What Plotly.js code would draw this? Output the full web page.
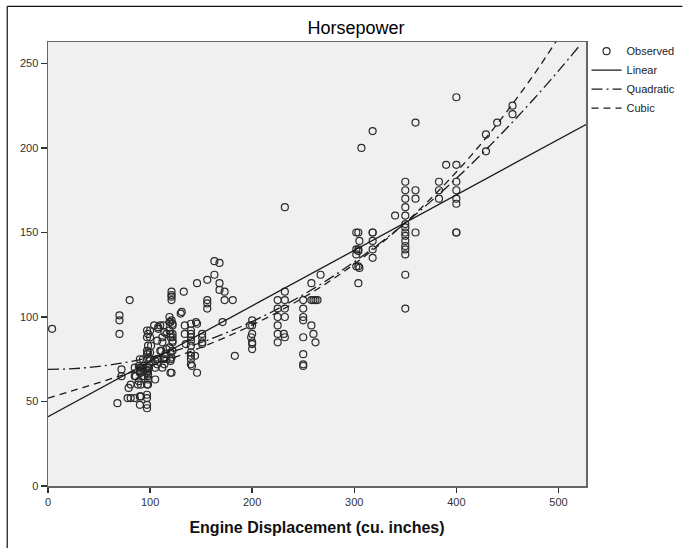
<!DOCTYPE html>
<html>
<head>
<meta charset="utf-8">
<script src="https://cdn.plot.ly/plotly-3.0.1.min.js"></script>
<style>
  html, body { margin: 0; padding: 0; background: #ffffff; }
  #chart { width: 693px; height: 548px; }
</style>
</head>
<body>
<div id="chart"></div>
<script>
// Observed points: engine displacement (cu. inches) vs horsepower
const obsX = [
  4, 68, 70, 70, 70, 72, 72, 80, 78, 79, 81, 81, 85, 85, 85, 86, 88, 89, 89, 90, 90, 90, 90, 90,
  91, 91, 91, 91, 91, 92, 93, 93, 94, 96, 97, 97, 97, 97, 97, 97, 97, 97, 97, 97, 97, 97,
  98, 98, 98, 98, 98, 98, 98, 98, 98, 98, 99, 100, 100, 100, 100,
  101, 104, 105, 105, 105, 107, 107, 107, 108, 108, 108, 110, 110, 111, 112, 112, 112, 113, 113,
  114, 114, 115, 116, 116, 116, 119, 119, 119, 119, 120, 120, 120, 120, 120, 120, 120, 121, 121,
  121, 121, 121, 121, 121, 122, 122, 122, 122, 122, 122, 122,
  130, 131, 133, 134, 134, 135, 140, 140, 140, 140, 140, 140, 140, 140, 140, 140, 141, 144, 145,
  146, 146, 146, 151, 151, 151, 151, 156, 156, 156, 156, 163, 163, 168, 168, 168, 171, 173, 173,
  181, 183,
  198, 200, 200, 200, 199, 200, 200, 200,
  225, 225, 225, 225, 225, 225, 232, 232, 232, 232, 231, 232, 232,
  250, 250, 250, 250, 250, 250, 250, 250,
  258, 258, 260, 262, 264, 258, 260, 262, 267,
  302, 304, 305, 302, 304, 304, 302, 302, 304, 305, 304, 307,
  318, 318, 318, 318, 318, 318, 340,
  350, 350, 350, 350, 350, 350, 350, 350, 350, 350, 350, 350, 350, 350, 350,
  360, 360, 360, 360,
  383, 383, 383, 390,
  400, 400, 400, 400, 400, 400, 400, 400,
  429, 429, 440, 455, 455
];
const obsY = [
  93, 49, 101, 98, 90, 65, 69, 110, 52, 58, 52, 60, 52, 65, 70, 65, 60, 62, 71, 48, 53, 67, 70, 75,
  53, 60, 67, 68, 70, 65, 70, 75, 65, 69, 46, 48, 52, 54, 60, 67, 70, 75, 78, 80, 88, 92,
  60, 63, 65, 66, 68, 70, 76, 79, 83, 90, 70, 75, 79, 88, 92,
  83, 95, 63, 70, 74, 72, 75, 86, 75, 93, 94, 80, 95, 80, 70, 85, 88, 75, 95,
  72, 91, 78, 75, 81, 90, 82, 92, 97, 100, 67, 74, 75, 79, 88, 90, 97, 67, 76,
  98, 110, 112, 113, 115, 80, 85, 86, 88, 90, 95, 96,
  102, 103, 115, 90, 95, 84, 96, 92, 90, 88, 86, 83, 79, 77, 75, 72, 71, 77, 97,
  96, 67, 120, 84, 85, 88, 90, 105, 108, 110, 122, 125, 133, 132, 120, 116, 97, 115, 110,
  110, 77,
  95, 98, 95, 90, 88, 85, 84, 81,
  110, 105, 100, 95, 90, 85, 115, 110, 105, 100, 90, 88, 165,
  110, 105, 100, 98, 88, 78, 72, 71,
  120, 110, 110, 110, 110, 95, 90, 85, 125,
  150, 150, 145, 140, 140, 139, 137, 130, 130, 129, 120, 200,
  150, 150, 145, 140, 135, 210, 160,
  180, 175, 170, 165, 160, 155, 153, 150, 148, 145, 142, 140, 137, 125, 105,
  215, 175, 170, 150,
  180, 175, 170, 190,
  230, 190, 180, 175, 170, 167, 150, 150,
  208, 198, 215, 225, 220
];

// Fitted curves, values at regular displacement steps
const linX = [0, 527];
const linY = [41, 213.9];
const fitX = [0, 25, 50, 75, 100, 125, 150, 175, 200, 225, 250, 275, 300, 325, 350, 375, 400, 425, 450, 475, 500, 520];
const quadY = [69.0, 69.4, 70.8, 73.0, 76.1, 80.1, 84.9, 90.7, 97.3, 104.8, 113.2, 122.4, 132.6, 143.6, 155.6, 168.4, 182.0, 196.6, 212.1, 228.4, 245.6, 260.0];
const cubX = [0, 25, 50, 75, 100, 125, 150, 175, 200, 225, 250, 275, 300, 325, 350, 375, 400, 425, 450, 475, 500, 525];
const cubY = [52.0, 56.6, 61.2, 66.0, 70.9, 76.3, 82.0, 88.3, 95.2, 102.9, 111.4, 120.8, 131.3, 142.9, 155.8, 170.1, 185.8, 203.0, 222.0, 242.6, 265.2, 289.7];

const xTicks = [0, 100, 200, 300, 400, 500];
const yTicks = [0, 50, 100, 150, 200, 250];

const FONT = '"Liberation Sans", Arial, sans-serif';
const INK = '#1a1a1a';

const traces = [
  {
    type: 'scatter', mode: 'markers', name: 'Observed',
    x: obsX, y: obsY,
    marker: { symbol: 'circle-open', size: 7, color: '#2b2b2b', line: { width: 1.2, color: '#2b2b2b' } },
    cliponaxis: true
  },
  {
    type: 'scatter', mode: 'lines', name: 'Linear',
    x: linX, y: linY,
    line: { color: INK, width: 1.3 }
  },
  {
    type: 'scatter', mode: 'lines', name: 'Quadratic',
    x: fitX, y: quadY,
    line: { color: INK, width: 1.3, dash: '11px,4px,2px,4px', shape: 'spline' }
  },
  {
    type: 'scatter', mode: 'lines', name: 'Cubic',
    x: cubX, y: cubY,
    line: { color: INK, width: 1.3, dash: '7px,5px', shape: 'spline' }
  }
];

const layout = {
  width: 693, height: 548,
  margin: { l: 48, r: 104, t: 42, b: 62, pad: 0 },
  paper_bgcolor: '#ffffff',
  plot_bgcolor: '#f0f0f0',
  font: { family: FONT, size: 11, color: '#222' },
  title: {
    text: 'Horsepower',
    font: { family: FONT, size: 18, color: '#000' },
    x: 356 / 693, xanchor: 'center', xref: 'container',
    y: 1 - 28 / 548, yanchor: 'middle', yref: 'container'
  },
  xaxis: {
    range: [0, 527], tickvals: xTicks, ticktext: xTicks.map(String),
    ticks: 'outside', ticklen: 5, tickwidth: 1.5, tickcolor: '#333',
    showline: true, linecolor: '#666', linewidth: 1.5, mirror: true,
    showgrid: false, zeroline: false,
    tickfont: { family: FONT, size: 11, color: '#333' },
    title: { text: '<b>Engine Displacement (cu. inches)</b>', font: { family: FONT, size: 16, color: '#111' }, standoff: 15 }
  },
  yaxis: {
    range: [0, 262.7], tickvals: yTicks, ticktext: yTicks.map(String),
    ticks: 'outside', ticklen: 6, tickwidth: 1.5, tickcolor: '#333',
    showline: true, linecolor: '#666', linewidth: 1.5, mirror: true,
    showgrid: false, zeroline: false,
    tickfont: { family: FONT, size: 11, color: '#333' }
  },
  showlegend: true,
  legend: {
    x: 1.001, xanchor: 'left', y: 1.012, yanchor: 'top',
    font: { family: FONT, size: 11, color: '#222' },
    itemwidth: 30, tracegroupgap: 0, bgcolor: 'rgba(0,0,0,0)', borderwidth: 0
  },
  shapes: [
    { type: 'line', xref: 'paper', yref: 'paper', x0: -41 / 541, x1: -41 / 541, y0: (486 - 6) / 444.3, y1: (486 - 548) / 444.3, line: { color: '#111', width: 1.2 } },
    { type: 'line', xref: 'paper', yref: 'paper', x0: -41 / 541, x1: (686 - 48) / 541, y0: (486 - 6) / 444.3, y1: (486 - 6) / 444.3, line: { color: '#111', width: 1.2 } }
  ]
};

Plotly.newPlot('chart', traces, layout, { displayModeBar: false, staticPlot: true });
</script>
</body>
</html>
